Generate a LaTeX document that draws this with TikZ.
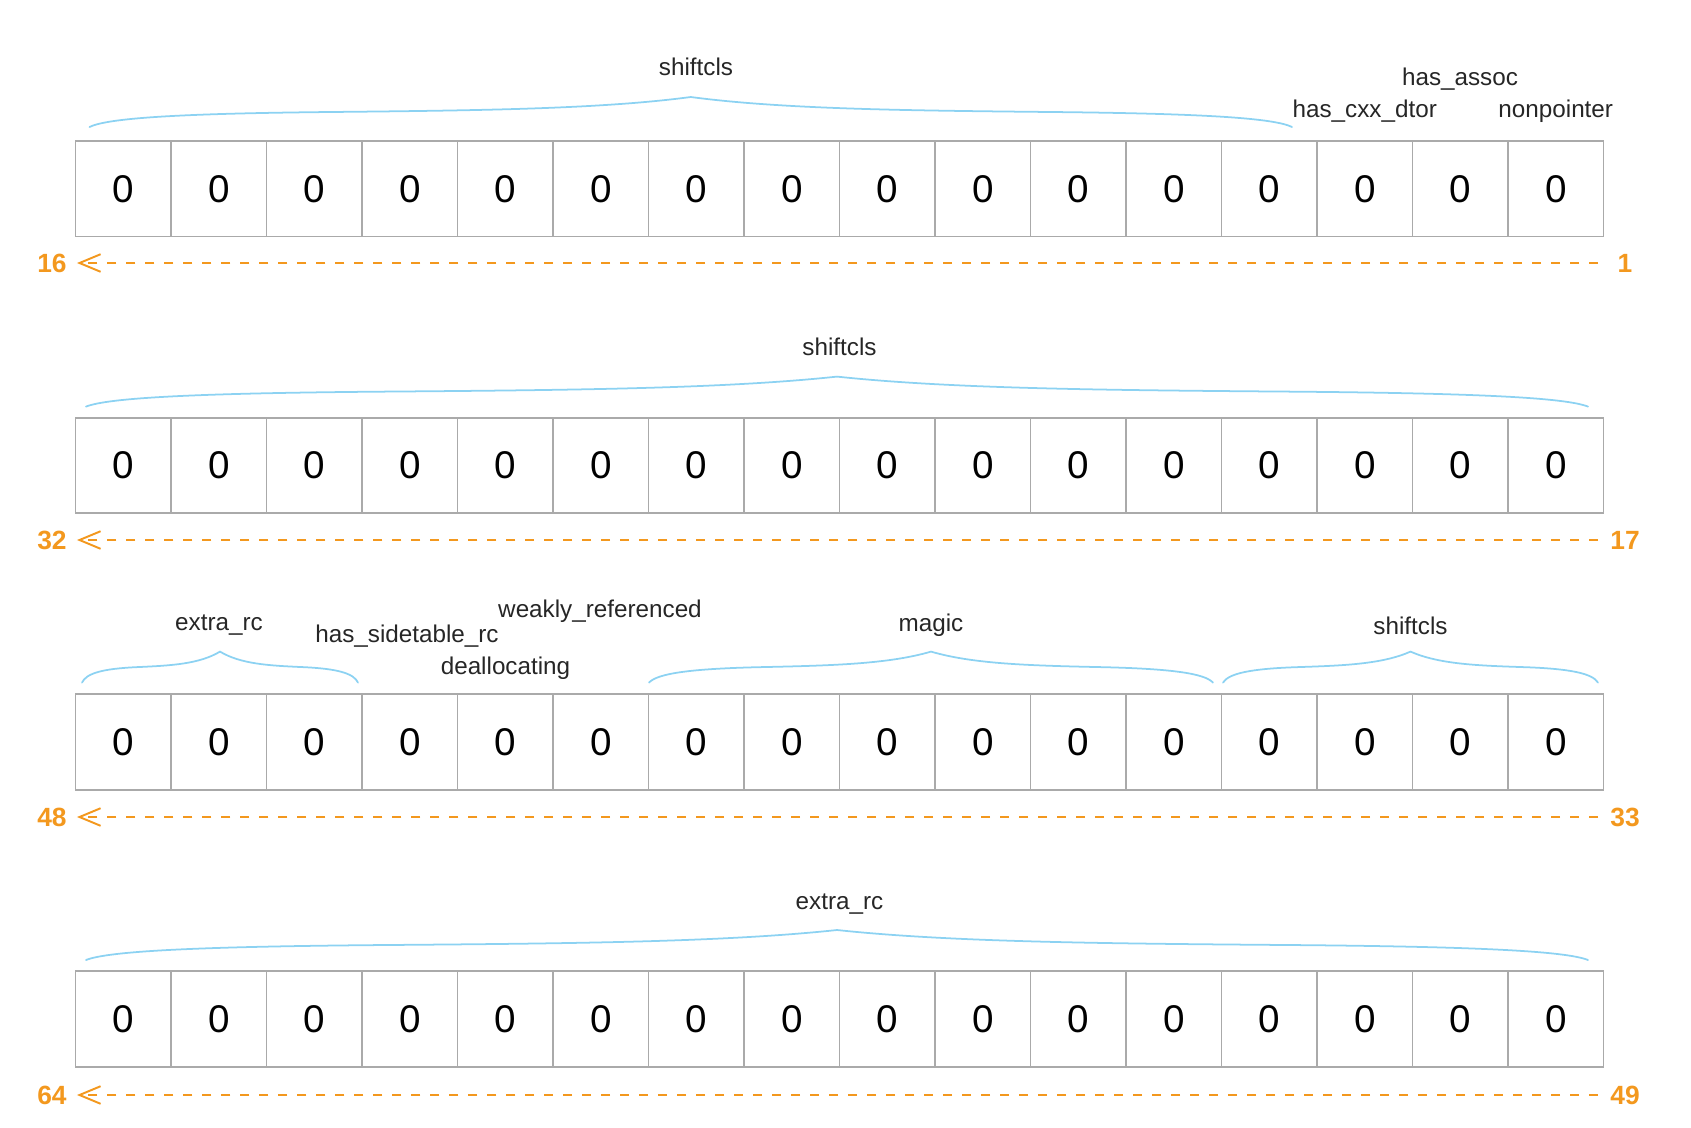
\documentclass[tikz,border=0pt]{standalone}
\usepackage{fontspec}
\setmainfont{Liberation Sans}
\usetikzlibrary{arrows.meta}

\definecolor{bitgray}{RGB}{170,170,170}
\definecolor{braceblue}{RGB}{140,210,242}
\definecolor{bitorange}{RGB}{243,152,30}

\tikzset{
  bit/.style={draw=bitgray, line width=1.1pt, minimum size=1.91cm, inner sep=0pt, font=\fontsize{22}{26}\selectfont},
  field/.style={font=\fontsize{13.8}{16}\selectfont, text=black!85, inner sep=0pt},
  fieldbrace/.style={draw=braceblue, line width=1pt, line cap=round},
  bitno/.style={text=bitorange, font=\fontsize{15}{18}\selectfont\bfseries, inner sep=0pt},
  bitline/.style={draw=bitorange, line width=1.1pt, dash pattern=on 0.18cm off 0.2cm, -{Straight Barb[length=12pt,width=10pt]}, shorten >=0.2cm},
}

% curly brace over a field: [height] left x, right x, base y (all in px)
\newcommand{\fieldbrace}[4][30]{%
  \pgfmathsetmacro\bw{(#3-#2)/2}%
  \pgfmathsetmacro\bm{(#2+#3)/2}%
  \draw[fieldbrace] (#2,#4)
    .. controls ({#2+0.03*\bw},{#4-0.3*#1}) and ({#2+0.15*\bw},{#4-0.45*#1}) .. ({#2+0.4*\bw},{#4-0.5*#1})
    .. controls ({#2+0.65*\bw},{#4-0.55*#1}) and ({#2+0.85*\bw},{#4-0.6*#1}) .. (\bm,{#4-#1})
    .. controls ({#3-0.85*\bw},{#4-0.6*#1}) and ({#3-0.65*\bw},{#4-0.55*#1}) .. ({#3-0.4*\bw},{#4-0.5*#1})
    .. controls ({#3-0.15*\bw},{#4-0.45*#1}) and ({#3-0.03*\bw},{#4-0.3*#1}) .. (#3,#4);%
}

\begin{document}
\begin{tikzpicture}[x=0.02cm, y=-0.02cm]
  \useasboundingbox (0,0) rectangle (1691,1127);

  % four rows of 16 bits
  \foreach \r in {1,...,4}
    \foreach \c in {1,...,16}
      \node[bit] (b\r-\c) at ({75.5+(\c-0.5)*95.5}, {188.75+(\r-1)*276.7}) {0};

  % bit numbers and direction
  \foreach \r/\hi/\lo/\y in {1/16/1/263, 2/32/17/540, 3/48/33/817, 4/64/49/1095} {
    \node[bitno, anchor=east] (hi\r) at (67,\y) {\hi};
    \node[bitno] (lo\r) at (1625,\y) {\lo};
    \coordinate (end\r) at (1598,\y);
    \draw[bitline] (end\r) -- (hi\r);
  }

  % row 1
  \node[field] (shiftclsA) at (696,67) {shiftcls};
  \fieldbrace{89.5}{1292}{127}
  \node[field] (cxxdtor) at (1364.75,111) {has\_cxx\_dtor};
  \node[field] (assoc) at (1460,78.7) {has\_assoc};
  \node[field] (nonptr) at (1555.75,111) {nonpointer};

  % row 2
  \node[field] (shiftclsB) at (839.5,347) {shiftcls};
  \fieldbrace{86}{1588}{406.6}

  % row 3
  \node[field] (extrarcA) at (219,625.5) {extra\_rc};
  \fieldbrace[31]{82}{358}{682.6}
  \node[field] (sidetable) at (407,636) {has\_sidetable\_rc};
  \node[field] (dealloc) at (505.5,668.6) {deallocating};
  \node[field] (weakref) at (600,611.5) {weakly\_referenced};
  \node[field] (magic) at (931,625.5) {magic};
  \fieldbrace[31]{649}{1213}{682.6}
  \node[field] (shiftclsC) at (1410.5,625.5) {shiftcls};
  \fieldbrace[31]{1223}{1598}{682.6}

  % row 4
  \node[field] (extrarcB) at (839.5,903.7) {extra\_rc};
  \fieldbrace{86}{1588}{960}
\end{tikzpicture}
\end{document}
